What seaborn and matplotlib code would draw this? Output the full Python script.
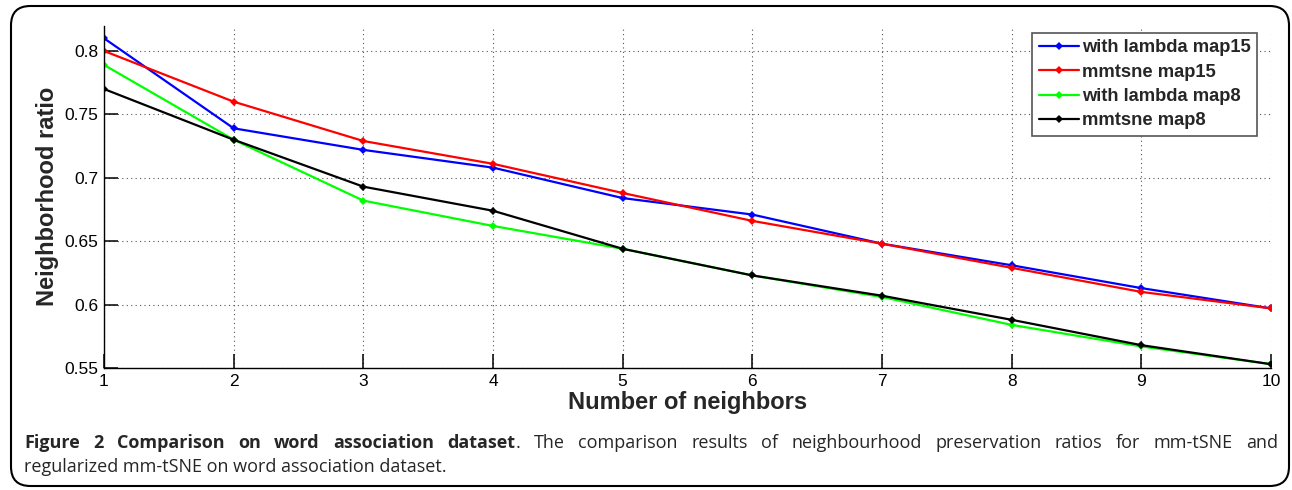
import pandas as pd
import matplotlib
matplotlib.use("Agg")
import matplotlib.pyplot as plt
import seaborn as sns
from matplotlib.patches import FancyBboxPatch

neighbors = [1, 2, 3, 4, 5, 6, 7, 8, 9, 10]
lambda_map15 = [0.810, 0.739, 0.722, 0.708, 0.684, 0.671, 0.648, 0.631, 0.613, 0.597]
mmtsne_map15 = [0.800, 0.760, 0.729, 0.711, 0.688, 0.666, 0.648, 0.629, 0.610, 0.597]
lambda_map8 = [0.789, 0.730, 0.682, 0.662, 0.644, 0.623, 0.606, 0.584, 0.567, 0.553]
mmtsne_map8 = [0.770, 0.730, 0.693, 0.674, 0.644, 0.623, 0.607, 0.588, 0.568, 0.553]

series = {
    "with lambda map15": lambda_map15,
    "mmtsne map15": mmtsne_map15,
    "with lambda map8": lambda_map8,
    "mmtsne map8": mmtsne_map8,
}
colors = ["#0000ff", "#ff0000", "#00ff00", "#000000"]

caption_bold = "Figure 2 Comparison on word association dataset"
caption_rest = ". The comparison results of neighbourhood preservation ratios for mm-tSNE and"
caption_line2 = "regularized mm-tSNE on word association dataset."

rows = []
for name, vals in series.items():
    for k, v in zip(neighbors, vals):
        rows.append({"neighbors": k, "ratio": v, "series": name})
df = pd.DataFrame(rows)

sns.set_theme(style="white")
plt.rcParams["font.family"] = ["Liberation Sans", "DejaVu Sans"]
plt.rcParams["xtick.bottom"] = True
plt.rcParams["ytick.left"] = True

fig = plt.figure(figsize=(12.92, 4.9), dpi=100)
ax = fig.add_axes([104 / 1292, 1 - 368 / 490, 1167 / 1292, (368 - 25.6) / 490])

sns.lineplot(data=df, x="neighbors", y="ratio", hue="series", palette=colors,
             marker="D", markersize=4.5, markeredgewidth=0, linewidth=1.6, ax=ax)

ax.set_xlim(1, 10)
ax.set_ylim(0.55, 0.82)
ax.set_xticks(neighbors)
ax.set_yticks([0.55, 0.6, 0.65, 0.7, 0.75, 0.8])
ax.set_yticklabels(["0.55", "0.6", "0.65", "0.7", "0.75", "0.8"])
ax.grid(True, linestyle=(0, (1, 3)), color="#555555", linewidth=0.8)
for s in ["top", "right"]:
    ax.spines[s].set_visible(False)
for s in ["left", "bottom"]:
    ax.spines[s].set_color("black")
    ax.spines[s].set_linewidth(1.0)
ax.tick_params(direction="in", length=10, width=1.1, colors="black", labelsize=12.5,
               pad=4, left=True, bottom=True)

ax.set_xlabel("Number of neighbors", fontsize=17, fontweight="bold",
              family=["Liberation Sans Narrow", "Liberation Sans"], labelpad=2)
ax.set_ylabel("Neighborhood ratio", fontsize=17, fontweight="bold",
              family=["Liberation Sans Narrow", "Liberation Sans"], labelpad=4)

leg = ax.legend(loc="upper right", bbox_to_anchor=(1257 / 1292, 1 - 33 / 490),
                bbox_transform=fig.transFigure, frameon=True,
                fancybox=False, handlelength=2.2, handletextpad=0.15,
                borderpad=0.35, labelspacing=0.4, borderaxespad=0,
                prop={"weight": "bold", "size": 13.2})
leg.get_frame().set_edgecolor("#555555")
leg.get_frame().set_linewidth(1.2)
leg.get_frame().set_alpha(1)

box = FancyBboxPatch((11 / 1292, 4 / 490), 1278 / 1292, 480 / 490,
                     boxstyle="round,pad=0,rounding_size=0.015",
                     transform=fig.transFigure, fill=False, edgecolor="black",
                     linewidth=1.5, mutation_aspect=1292 / 490)
fig.patches.append(box)

# caption: first line justified between x=24 and x=1278
cap_font = ["Open Sans", "DejaVu Sans"]
cap_size = 13
words = [(w, "bold") for w in caption_bold.split(" ")]
rest_words = caption_rest.split(" ")
words.append((rest_words[0], "normal"))  # the period, glued to previous word
words += [(w, "normal") for w in rest_words[1:]]

renderer = fig.canvas.get_renderer()
texts = []
for w, wt in words:
    t = fig.text(0, 1 - 443 / 490, w, fontsize=cap_size, fontweight=wt,
                 family=cap_font, va="center", ha="left")
    texts.append(t)
widths = [t.get_window_extent(renderer).width for t in texts]
n_gaps = len(words) - 2  # period has no gap before it
gap = (1278 - 24 - sum(widths)) / n_gaps
x = 24.0
for i, t in enumerate(texts):
    if i > 0 and words[i][0] != ".":
        x += gap
    t.set_x(x / 1292)
    x += widths[i]

fig.text(24 / 1292, 1 - 467 / 490, caption_line2,
         fontsize=cap_size, family=cap_font, va="center", ha="left")

fig.savefig("out.png", dpi=100)
